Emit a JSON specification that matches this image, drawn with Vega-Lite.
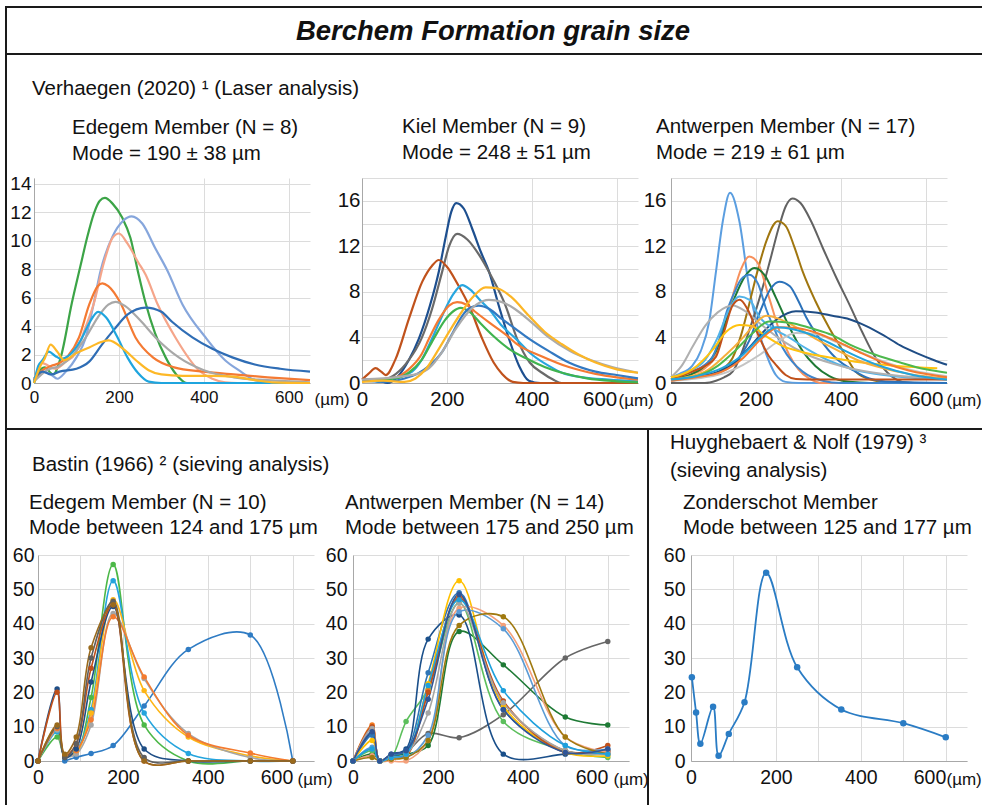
{
"$schema": "https://vega.github.io/schema/vega-lite/v6.json",
"background": "white",
"padding": {"left": 5, "top": 6, "right": 0, "bottom": 0},
"config": {
  "view": {"stroke": null},
  "font": "Liberation Sans",
  "axis": {"ticks": false, "gridColor": "#dcdcdc", "gridWidth": 1, "domainColor": "#a8a8a8", "labelFont": "Liberation Sans", "labelColor": "#111111", "labelOverlap": false, "labelFlush": false, "titleFont": "Liberation Sans", "titleFontWeight": "normal", "titleColor": "#111111", "titleFontSize": 17},
  "axisX": {"titleAlign": "left", "titleBaseline": "alphabetic", "titleAngle": 0},
  "title": {"font": "Liberation Sans", "fontSize": 20.5, "fontWeight": "normal", "color": "#111111", "anchor": "start", "frame": "group", "lineHeight": 26}
},
"datasets": {
"e1": [
{"s":"g","x":0,"y":0},{"s":"g","x":10,"y":0.7},{"s":"g","x":25,"y":1.1},{"s":"g","x":45,"y":0.6},{"s":"g","x":63,"y":1.8},{"s":"g","x":89,"y":5.6},{"s":"g","x":110,"y":8.3},{"s":"g","x":125,"y":10.2},{"s":"g","x":141,"y":11.9},{"s":"g","x":155,"y":12.8},{"s":"g","x":167,"y":13.0},{"s":"g","x":185,"y":12.6},{"s":"g","x":208,"y":11.6},{"s":"g","x":227,"y":10.2},{"s":"g","x":245,"y":7.8},{"s":"g","x":263,"y":5.6},{"s":"g","x":285,"y":3.5},{"s":"g","x":310,"y":1.8},{"s":"g","x":335,"y":0.6},{"s":"g","x":360,"y":0},{"s":"g","x":650,"y":0},
{"s":"lb","x":0,"y":0.2},{"s":"lb","x":20,"y":0.8},{"s":"lb","x":40,"y":0.6},{"s":"lb","x":55,"y":0.3},{"s":"lb","x":75,"y":0.8},{"s":"lb","x":100,"y":1.8},{"s":"lb","x":122,"y":3.2},{"s":"lb","x":140,"y":5.5},{"s":"lb","x":157,"y":7.9},{"s":"lb","x":185,"y":10.3},{"s":"lb","x":210,"y":11.4},{"s":"lb","x":230,"y":11.7},{"s":"lb","x":255,"y":11.2},{"s":"lb","x":285,"y":9.5},{"s":"lb","x":314,"y":7.9},{"s":"lb","x":350,"y":5.5},{"s":"lb","x":404,"y":3.2},{"s":"lb","x":450,"y":1.6},{"s":"lb","x":482,"y":0.9},{"s":"lb","x":520,"y":0.2},{"s":"lb","x":560,"y":0},{"s":"lb","x":650,"y":0},
{"s":"sa","x":0,"y":0.2},{"s":"sa","x":20,"y":1.4},{"s":"sa","x":35,"y":1.2},{"s":"sa","x":50,"y":1.0},{"s":"sa","x":75,"y":1.5},{"s":"sa","x":98,"y":2.1},{"s":"sa","x":120,"y":3.8},{"s":"sa","x":141,"y":5.6},{"s":"sa","x":165,"y":8.5},{"s":"sa","x":185,"y":10.2},{"s":"sa","x":200,"y":10.5},{"s":"sa","x":220,"y":9.8},{"s":"sa","x":245,"y":8.5},{"s":"sa","x":263,"y":7.6},{"s":"sa","x":290,"y":5.6},{"s":"sa","x":333,"y":3.2},{"s":"sa","x":388,"y":0.9},{"s":"sa","x":420,"y":0.3},{"s":"sa","x":450,"y":0.05},{"s":"sa","x":480,"y":0},{"s":"sa","x":650,"y":0},
{"s":"or","x":0,"y":0.2},{"s":"or","x":20,"y":0.9},{"s":"or","x":40,"y":1.2},{"s":"or","x":60,"y":1.4},{"s":"or","x":80,"y":1.9},{"s":"or","x":106,"y":3.2},{"s":"or","x":130,"y":5.5},{"s":"or","x":150,"y":6.8},{"s":"or","x":161,"y":7.0},{"s":"or","x":175,"y":6.8},{"s":"or","x":204,"y":5.6},{"s":"or","x":239,"y":3.2},{"s":"or","x":280,"y":1.8},{"s":"or","x":330,"y":1.1},{"s":"or","x":400,"y":0.8},{"s":"or","x":470,"y":0.6},{"s":"or","x":550,"y":0.4},{"s":"or","x":650,"y":0.2},
{"s":"gr","x":0,"y":0.1},{"s":"gr","x":30,"y":0.9},{"s":"gr","x":60,"y":1.2},{"s":"gr","x":90,"y":1.9},{"s":"gr","x":122,"y":3.2},{"s":"gr","x":150,"y":4.6},{"s":"gr","x":175,"y":5.5},{"s":"gr","x":192,"y":5.7},{"s":"gr","x":215,"y":5.4},{"s":"gr","x":250,"y":4.4},{"s":"gr","x":286,"y":3.2},{"s":"gr","x":341,"y":1.8},{"s":"gr","x":400,"y":0.9},{"s":"gr","x":470,"y":0.4},{"s":"gr","x":550,"y":0.2},{"s":"gr","x":650,"y":0.05},
{"s":"db","x":0,"y":0.3},{"s":"db","x":20,"y":0.8},{"s":"db","x":40,"y":0.6},{"s":"db","x":60,"y":0.8},{"s":"db","x":100,"y":1.0},{"s":"db","x":130,"y":1.5},{"s":"db","x":160,"y":2.7},{"s":"db","x":190,"y":3.8},{"s":"db","x":220,"y":4.8},{"s":"db","x":263,"y":5.3},{"s":"db","x":300,"y":5.0},{"s":"db","x":325,"y":4.3},{"s":"db","x":373,"y":3.2},{"s":"db","x":420,"y":2.4},{"s":"db","x":467,"y":1.8},{"s":"db","x":520,"y":1.3},{"s":"db","x":580,"y":1.0},{"s":"db","x":650,"y":0.8},
{"s":"cy","x":0,"y":0},{"s":"cy","x":10,"y":1.2},{"s":"cy","x":20,"y":1.6},{"s":"cy","x":35,"y":2.2},{"s":"cy","x":50,"y":1.9},{"s":"cy","x":63,"y":1.7},{"s":"cy","x":85,"y":2.0},{"s":"cy","x":110,"y":3.0},{"s":"cy","x":130,"y":4.2},{"s":"cy","x":151,"y":5.0},{"s":"cy","x":170,"y":4.6},{"s":"cy","x":195,"y":3.3},{"s":"cy","x":220,"y":1.8},{"s":"cy","x":245,"y":0.7},{"s":"cy","x":270,"y":0.1},{"s":"cy","x":300,"y":0},{"s":"cy","x":650,"y":0},
{"s":"ye","x":0,"y":0},{"s":"ye","x":15,"y":1.2},{"s":"ye","x":25,"y":1.7},{"s":"ye","x":39,"y":2.7},{"s":"ye","x":55,"y":2.2},{"s":"ye","x":71,"y":1.6},{"s":"ye","x":100,"y":2.1},{"s":"ye","x":130,"y":2.5},{"s":"ye","x":160,"y":2.9},{"s":"ye","x":176,"y":3.0},{"s":"ye","x":210,"y":2.4},{"s":"ye","x":240,"y":1.6},{"s":"ye","x":270,"y":0.9},{"s":"ye","x":300,"y":0.6},{"s":"ye","x":350,"y":0.5},{"s":"ye","x":420,"y":0.5},{"s":"ye","x":470,"y":0.45},{"s":"ye","x":520,"y":0.2},{"s":"ye","x":560,"y":0.05},{"s":"ye","x":650,"y":0}
],
"k": [
{"s":"nv","x":0,"y":0.3},{"s":"nv","x":40,"y":0.2},{"s":"nv","x":60,"y":0.0},{"s":"nv","x":85,"y":0.6},{"s":"nv","x":110,"y":2},{"s":"nv","x":134,"y":3.9},{"s":"nv","x":160,"y":6.8},{"s":"nv","x":181,"y":9.8},{"s":"nv","x":197,"y":12.8},{"s":"nv","x":210,"y":15},{"s":"nv","x":222,"y":15.8},{"s":"nv","x":240,"y":15.3},{"s":"nv","x":260,"y":13.5},{"s":"nv","x":280,"y":11.5},{"s":"nv","x":299,"y":9.8},{"s":"nv","x":322,"y":6.8},{"s":"nv","x":346,"y":3.9},{"s":"nv","x":370,"y":1.5},{"s":"nv","x":393,"y":0.2},{"s":"nv","x":420,"y":0},{"s":"nv","x":650,"y":0},
{"s":"dg","x":0,"y":0.3},{"s":"dg","x":50,"y":0.3},{"s":"dg","x":80,"y":0.8},{"s":"dg","x":110,"y":2},{"s":"dg","x":140,"y":3.9},{"s":"dg","x":165,"y":6.5},{"s":"dg","x":189,"y":9.8},{"s":"dg","x":205,"y":12},{"s":"dg","x":224,"y":13.1},{"s":"dg","x":248,"y":12.6},{"s":"dg","x":275,"y":11.3},{"s":"dg","x":307,"y":9.2},{"s":"dg","x":338,"y":6.8},{"s":"dg","x":365,"y":3.9},{"s":"dg","x":395,"y":1.8},{"s":"dg","x":424,"y":0.9},{"s":"dg","x":450,"y":0.3},{"s":"dg","x":470,"y":0},{"s":"dg","x":650,"y":0},
{"s":"ru","x":0,"y":0.3},{"s":"ru","x":15,"y":0.8},{"s":"ru","x":32,"y":1.3},{"s":"ru","x":45,"y":1.0},{"s":"ru","x":56,"y":0.7},{"s":"ru","x":79,"y":2.1},{"s":"ru","x":111,"y":5.7},{"s":"ru","x":142,"y":8.9},{"s":"ru","x":165,"y":10.3},{"s":"ru","x":181,"y":10.8},{"s":"ru","x":200,"y":10.2},{"s":"ru","x":225,"y":8.7},{"s":"ru","x":252,"y":6.8},{"s":"ru","x":283,"y":3.9},{"s":"ru","x":310,"y":1.8},{"s":"ru","x":330,"y":0.8},{"s":"ru","x":355,"y":0.1},{"s":"ru","x":380,"y":0},{"s":"ru","x":650,"y":0},
{"s":"cy","x":0,"y":0.2},{"s":"cy","x":20,"y":0.3},{"s":"cy","x":40,"y":0.1},{"s":"cy","x":60,"y":0.3},{"s":"cy","x":90,"y":0.6},{"s":"cy","x":118,"y":1},{"s":"cy","x":140,"y":2},{"s":"cy","x":165,"y":3.9},{"s":"cy","x":190,"y":6},{"s":"cy","x":215,"y":7.8},{"s":"cy","x":236,"y":8.6},{"s":"cy","x":255,"y":8.2},{"s":"cy","x":280,"y":7.2},{"s":"cy","x":299,"y":6.5},{"s":"cy","x":330,"y":5.0},{"s":"cy","x":362,"y":3.9},{"s":"cy","x":400,"y":2.5},{"s":"cy","x":440,"y":1.5},{"s":"cy","x":471,"y":0.9},{"s":"cy","x":520,"y":0.5},{"s":"cy","x":580,"y":0.3},{"s":"cy","x":650,"y":0.15},
{"s":"or","x":0,"y":0.2},{"s":"or","x":40,"y":0.3},{"s":"or","x":80,"y":0.5},{"s":"or","x":110,"y":1.2},{"s":"or","x":140,"y":2.5},{"s":"or","x":158,"y":3.9},{"s":"or","x":180,"y":5.5},{"s":"or","x":205,"y":6.8},{"s":"or","x":224,"y":7.1},{"s":"or","x":245,"y":6.9},{"s":"or","x":265,"y":6.3},{"s":"or","x":300,"y":5.3},{"s":"or","x":340,"y":4.2},{"s":"or","x":369,"y":3.3},{"s":"or","x":420,"y":2.4},{"s":"or","x":487,"y":1.4},{"s":"or","x":550,"y":0.8},{"s":"or","x":600,"y":0.5},{"s":"or","x":650,"y":0.3},
{"s":"gn","x":0,"y":0.2},{"s":"gn","x":40,"y":0.3},{"s":"gn","x":80,"y":0.4},{"s":"gn","x":110,"y":0.9},{"s":"gn","x":140,"y":2},{"s":"gn","x":169,"y":3.9},{"s":"gn","x":195,"y":5.5},{"s":"gn","x":215,"y":6.3},{"s":"gn","x":232,"y":6.6},{"s":"gn","x":255,"y":6.2},{"s":"gn","x":280,"y":5.2},{"s":"gn","x":310,"y":4.1},{"s":"gn","x":346,"y":3.0},{"s":"gn","x":390,"y":2.1},{"s":"gn","x":430,"y":1.4},{"s":"gn","x":471,"y":0.9},{"s":"gn","x":530,"y":0.4},{"s":"gn","x":600,"y":0.15},{"s":"gn","x":650,"y":0.05},
{"s":"bl","x":0,"y":0.2},{"s":"bl","x":50,"y":0.1},{"s":"bl","x":100,"y":0.4},{"s":"bl","x":130,"y":0.8},{"s":"bl","x":158,"y":1.5},{"s":"bl","x":190,"y":2.8},{"s":"bl","x":215,"y":4.5},{"s":"bl","x":236,"y":5.9},{"s":"bl","x":255,"y":6.6},{"s":"bl","x":275,"y":6.8},{"s":"bl","x":300,"y":6.5},{"s":"bl","x":330,"y":5.6},{"s":"bl","x":360,"y":4.8},{"s":"bl","x":393,"y":3.9},{"s":"bl","x":440,"y":2.8},{"s":"bl","x":487,"y":1.8},{"s":"bl","x":550,"y":1.0},{"s":"bl","x":600,"y":0.7},{"s":"bl","x":650,"y":0.4},
{"s":"lg","x":0,"y":0.3},{"s":"lg","x":50,"y":0.4},{"s":"lg","x":100,"y":0.6},{"s":"lg","x":130,"y":0.8},{"s":"lg","x":158,"y":1.3},{"s":"lg","x":190,"y":2.8},{"s":"lg","x":220,"y":4.7},{"s":"lg","x":245,"y":6},{"s":"lg","x":270,"y":6.9},{"s":"lg","x":299,"y":7.3},{"s":"lg","x":330,"y":7.1},{"s":"lg","x":360,"y":6.5},{"s":"lg","x":400,"y":5.3},{"s":"lg","x":440,"y":4.0},{"s":"lg","x":490,"y":2.8},{"s":"lg","x":540,"y":2.0},{"s":"lg","x":589,"y":1.4},{"s":"lg","x":650,"y":0.9},
{"s":"ye","x":0,"y":0.1},{"s":"ye","x":50,"y":0.2},{"s":"ye","x":100,"y":0.1},{"s":"ye","x":126,"y":0.4},{"s":"ye","x":150,"y":1.2},{"s":"ye","x":181,"y":3.0},{"s":"ye","x":210,"y":4.8},{"s":"ye","x":236,"y":6.3},{"s":"ye","x":260,"y":7.5},{"s":"ye","x":291,"y":8.4},{"s":"ye","x":320,"y":8.3},{"s":"ye","x":350,"y":7.6},{"s":"ye","x":393,"y":5.9},{"s":"ye","x":430,"y":4.5},{"s":"ye","x":471,"y":3.4},{"s":"ye","x":510,"y":2.5},{"s":"ye","x":550,"y":1.8},{"s":"ye","x":600,"y":1.2},{"s":"ye","x":650,"y":0.9}
],
"a1": [
{"s":"cf","x":0,"y":0.5},{"s":"cf","x":20,"y":0.8},{"s":"cf","x":50,"y":1.5},{"s":"cf","x":70,"y":2.8},{"s":"cf","x":90,"y":5.4},{"s":"cf","x":106,"y":9.8},{"s":"cf","x":122,"y":14.2},{"s":"cf","x":139,"y":16.7},{"s":"cf","x":161,"y":14.2},{"s":"cf","x":184,"y":8.4},{"s":"cf","x":200,"y":5.5},{"s":"cf","x":216,"y":3.4},{"s":"cf","x":232,"y":1.8},{"s":"cf","x":247,"y":0.7},{"s":"cf","x":270,"y":0.1},{"s":"cf","x":300,"y":0},{"s":"cf","x":650,"y":0},
{"s":"dg","x":0,"y":0},{"s":"dg","x":80,"y":0},{"s":"dg","x":106,"y":0.2},{"s":"dg","x":125,"y":0.5},{"s":"dg","x":145,"y":1.0},{"s":"dg","x":165,"y":2.5},{"s":"dg","x":184,"y":4.6},{"s":"dg","x":200,"y":6.4},{"s":"dg","x":216,"y":8.4},{"s":"dg","x":235,"y":11},{"s":"dg","x":255,"y":13.8},{"s":"dg","x":270,"y":15.5},{"s":"dg","x":286,"y":16.2},{"s":"dg","x":305,"y":15.8},{"s":"dg","x":330,"y":14.2},{"s":"dg","x":357,"y":11.9},{"s":"dg","x":390,"y":9.2},{"s":"dg","x":420,"y":6.9},{"s":"dg","x":450,"y":4.5},{"s":"dg","x":482,"y":2.2},{"s":"dg","x":510,"y":0.9},{"s":"dg","x":545,"y":0.1},{"s":"dg","x":570,"y":0},{"s":"dg","x":650,"y":0},
{"s":"gd","x":0,"y":0.3},{"s":"gd","x":50,"y":0.5},{"s":"gd","x":100,"y":0.8},{"s":"gd","x":125,"y":1.3},{"s":"gd","x":145,"y":2.2},{"s":"gd","x":165,"y":4.2},{"s":"gd","x":184,"y":6.9},{"s":"gd","x":205,"y":10},{"s":"gd","x":225,"y":12.5},{"s":"gd","x":251,"y":14.2},{"s":"gd","x":270,"y":13.8},{"s":"gd","x":290,"y":12},{"s":"gd","x":310,"y":9.8},{"s":"gd","x":340,"y":7.2},{"s":"gd","x":373,"y":4.8},{"s":"gd","x":405,"y":2.8},{"s":"gd","x":435,"y":1.0},{"s":"gd","x":470,"y":0.3},{"s":"gd","x":510,"y":0.05},{"s":"gd","x":650,"y":0},
{"s":"so","x":0,"y":0.3},{"s":"so","x":50,"y":0.8},{"s":"so","x":80,"y":1.3},{"s":"so","x":106,"y":2.5},{"s":"so","x":125,"y":4.8},{"s":"so","x":145,"y":7.6},{"s":"so","x":165,"y":10},{"s":"so","x":184,"y":11.1},{"s":"so","x":205,"y":10.5},{"s":"so","x":231,"y":7.5},{"s":"so","x":255,"y":4.6},{"s":"so","x":278,"y":2.5},{"s":"so","x":300,"y":1.2},{"s":"so","x":325,"y":0.4},{"s":"so","x":357,"y":0},{"s":"so","x":650,"y":0},
{"s":"dgn","x":0,"y":0.3},{"s":"dgn","x":50,"y":0.8},{"s":"dgn","x":80,"y":1.5},{"s":"dgn","x":106,"y":2.8},{"s":"dgn","x":129,"y":5.4},{"s":"dgn","x":150,"y":7.5},{"s":"dgn","x":175,"y":9.4},{"s":"dgn","x":196,"y":10.1},{"s":"dgn","x":220,"y":9.5},{"s":"dgn","x":247,"y":7.5},{"s":"dgn","x":275,"y":5.2},{"s":"dgn","x":310,"y":2.8},{"s":"dgn","x":340,"y":1.5},{"s":"dgn","x":373,"y":0.6},{"s":"dgn","x":420,"y":0.1},{"s":"dgn","x":467,"y":0},{"s":"dgn","x":650,"y":0},
{"s":"ba","x":0,"y":0.5},{"s":"ba","x":50,"y":1},{"s":"ba","x":80,"y":1.6},{"s":"ba","x":98,"y":2.3},{"s":"ba","x":115,"y":4},{"s":"ba","x":129,"y":6},{"s":"ba","x":150,"y":8},{"s":"ba","x":165,"y":9.1},{"s":"ba","x":184,"y":9.5},{"s":"ba","x":205,"y":8.7},{"s":"ba","x":224,"y":6.5},{"s":"ba","x":245,"y":4.6},{"s":"ba","x":263,"y":3.1},{"s":"ba","x":285,"y":1.9},{"s":"ba","x":310,"y":1.0},{"s":"ba","x":357,"y":0.2},{"s":"ba","x":400,"y":0},{"s":"ba","x":650,"y":0},
{"s":"bb","x":0,"y":0.2},{"s":"bb","x":50,"y":0.5},{"s":"bb","x":100,"y":0.8},{"s":"bb","x":145,"y":1.6},{"s":"bb","x":184,"y":3.7},{"s":"bb","x":210,"y":6.3},{"s":"bb","x":235,"y":8.3},{"s":"bb","x":255,"y":8.9},{"s":"bb","x":280,"y":8.5},{"s":"bb","x":300,"y":7.2},{"s":"bb","x":318,"y":5.8},{"s":"bb","x":350,"y":3.9},{"s":"bb","x":388,"y":2.2},{"s":"bb","x":430,"y":1.1},{"s":"bb","x":467,"y":0.4},{"s":"bb","x":520,"y":0.1},{"s":"bb","x":650,"y":0},
{"s":"nv","x":0,"y":0.3},{"s":"nv","x":50,"y":0.5},{"s":"nv","x":106,"y":0.9},{"s":"nv","x":150,"y":1.8},{"s":"nv","x":184,"y":3.1},{"s":"nv","x":215,"y":4.4},{"s":"nv","x":250,"y":5.6},{"s":"nv","x":294,"y":6.3},{"s":"nv","x":340,"y":6.2},{"s":"nv","x":380,"y":5.9},{"s":"nv","x":420,"y":5.6},{"s":"nv","x":460,"y":5.0},{"s":"nv","x":500,"y":4.2},{"s":"nv","x":540,"y":3.3},{"s":"nv","x":580,"y":2.6},{"s":"nv","x":620,"y":2.0},{"s":"nv","x":650,"y":1.6},
{"s":"sky","x":0,"y":0.5},{"s":"sky","x":40,"y":1},{"s":"sky","x":80,"y":2},{"s":"sky","x":110,"y":4},{"s":"sky","x":135,"y":6.3},{"s":"sky","x":161,"y":7.6},{"s":"sky","x":185,"y":7.3},{"s":"sky","x":208,"y":5.8},{"s":"sky","x":240,"y":4.8},{"s":"sky","x":278,"y":4.0},{"s":"sky","x":320,"y":3.0},{"s":"sky","x":370,"y":2.0},{"s":"sky","x":420,"y":1.3},{"s":"sky","x":480,"y":0.8},{"s":"sky","x":550,"y":0.5},{"s":"sky","x":650,"y":0.3},
{"s":"lga","x":0,"y":0.5},{"s":"lga","x":25,"y":1.5},{"s":"lga","x":51,"y":3.2},{"s":"lga","x":80,"y":5},{"s":"lga","x":110,"y":6.2},{"s":"lga","x":145,"y":6.8},{"s":"lga","x":175,"y":6.3},{"s":"lga","x":210,"y":5.2},{"s":"lga","x":263,"y":3.7},{"s":"lga","x":320,"y":2.5},{"s":"lga","x":380,"y":1.7},{"s":"lga","x":420,"y":1.3},{"s":"lga","x":500,"y":0.8},{"s":"lga","x":580,"y":0.5},{"s":"lga","x":650,"y":0.4},
{"s":"lgb","x":0,"y":0.2},{"s":"lgb","x":60,"y":0.4},{"s":"lgb","x":120,"y":0.8},{"s":"lgb","x":170,"y":1.6},{"s":"lgb","x":210,"y":2.5},{"s":"lgb","x":250,"y":3.6},{"s":"lgb","x":294,"y":4.4},{"s":"lgb","x":340,"y":4.3},{"s":"lgb","x":390,"y":3.6},{"s":"lgb","x":440,"y":2.8},{"s":"lgb","x":500,"y":1.9},{"s":"lgb","x":570,"y":1.1},{"s":"lgb","x":650,"y":0.6},
{"s":"ru","x":0,"y":0.3},{"s":"ru","x":50,"y":1},{"s":"ru","x":80,"y":1.5},{"s":"ru","x":106,"y":2.3},{"s":"ru","x":125,"y":4.5},{"s":"ru","x":145,"y":6.8},{"s":"ru","x":162,"y":7.3},{"s":"ru","x":180,"y":6.5},{"s":"ru","x":208,"y":4},{"s":"ru","x":230,"y":2.4},{"s":"ru","x":247,"y":1.6},{"s":"ru","x":270,"y":0.7},{"s":"ru","x":294,"y":0.35},{"s":"ru","x":350,"y":0.3},{"s":"ru","x":450,"y":0.3},{"s":"ru","x":550,"y":0.3},{"s":"ru","x":650,"y":0.3},
{"s":"ya","x":0,"y":0.5},{"s":"ya","x":50,"y":1.2},{"s":"ya","x":100,"y":3},{"s":"ya","x":130,"y":4.5},{"s":"ya","x":161,"y":5.1},{"s":"ya","x":190,"y":5.0},{"s":"ya","x":220,"y":4.2},{"s":"ya","x":260,"y":3.3},{"s":"ya","x":310,"y":2.7},{"s":"ya","x":380,"y":2.2},{"s":"ya","x":450,"y":1.8},{"s":"ya","x":530,"y":1.5},{"s":"ya","x":627,"y":1.3},
{"s":"yb","x":0,"y":0.3},{"s":"yb","x":80,"y":1},{"s":"yb","x":130,"y":2.5},{"s":"yb","x":170,"y":4},{"s":"yb","x":200,"y":5.3},{"s":"yb","x":224,"y":5.9},{"s":"yb","x":250,"y":5.7},{"s":"yb","x":290,"y":5.0},{"s":"yb","x":340,"y":3.9},{"s":"yb","x":390,"y":2.9},{"s":"yb","x":440,"y":2.0},{"s":"yb","x":500,"y":1.3},{"s":"yb","x":560,"y":0.8},{"s":"yb","x":650,"y":0.4},
{"s":"gn","x":0,"y":0.3},{"s":"gn","x":60,"y":0.6},{"s":"gn","x":110,"y":1.5},{"s":"gn","x":150,"y":2.8},{"s":"gn","x":190,"y":4.3},{"s":"gn","x":231,"y":5.4},{"s":"gn","x":280,"y":5.3},{"s":"gn","x":330,"y":4.8},{"s":"gn","x":380,"y":4.2},{"s":"gn","x":420,"y":3.4},{"s":"gn","x":480,"y":2.5},{"s":"gn","x":540,"y":1.8},{"s":"gn","x":600,"y":1.2},{"s":"gn","x":650,"y":0.9},
{"s":"or","x":0,"y":0.2},{"s":"or","x":60,"y":0.5},{"s":"or","x":120,"y":1},{"s":"or","x":170,"y":2.2},{"s":"or","x":210,"y":3.8},{"s":"or","x":255,"y":4.9},{"s":"or","x":300,"y":4.8},{"s":"or","x":350,"y":4.3},{"s":"or","x":400,"y":3.5},{"s":"or","x":450,"y":2.6},{"s":"or","x":500,"y":1.8},{"s":"or","x":560,"y":1.1},{"s":"or","x":650,"y":0.5},
{"s":"cy","x":0,"y":0.3},{"s":"cy","x":60,"y":0.6},{"s":"cy","x":120,"y":1.3},{"s":"cy","x":170,"y":2.5},{"s":"cy","x":210,"y":4.0},{"s":"cy","x":247,"y":4.9},{"s":"cy","x":290,"y":4.7},{"s":"cy","x":340,"y":4.1},{"s":"cy","x":390,"y":3.2},{"s":"cy","x":440,"y":2.3},{"s":"cy","x":500,"y":1.4},{"s":"cy","x":570,"y":0.7},{"s":"cy","x":650,"y":0.3}
],
"e2": [
{"s":"bl","x":63,"y":0},{"s":"bl","x":90,"y":1.1},{"s":"bl","x":125,"y":2.2},{"s":"bl","x":177,"y":4.5},{"s":"bl","x":250,"y":16},{"s":"bl","x":354,"y":32.5},{"s":"bl","x":500,"y":36.7},{"s":"bl","x":600,"y":0},
{"s":"gn","x":0,"y":0},{"s":"gn","x":45,"y":7},{"s":"gn","x":63,"y":1.5},{"s":"gn","x":90,"y":2.5},{"s":"gn","x":125,"y":18.5},{"s":"gn","x":177,"y":57.2},{"s":"gn","x":250,"y":10.5},{"s":"gn","x":354,"y":0},{"s":"gn","x":500,"y":0},{"s":"gn","x":600,"y":0},
{"s":"cy","x":0,"y":0},{"s":"cy","x":45,"y":8.5},{"s":"cy","x":63,"y":1.5},{"s":"cy","x":90,"y":3},{"s":"cy","x":125,"y":15},{"s":"cy","x":177,"y":52.5},{"s":"cy","x":250,"y":14},{"s":"cy","x":354,"y":2.2},{"s":"cy","x":500,"y":0},{"s":"cy","x":600,"y":0},
{"s":"ye","x":0,"y":0},{"s":"ye","x":45,"y":10},{"s":"ye","x":63,"y":1.5},{"s":"ye","x":90,"y":2.5},{"s":"ye","x":125,"y":14},{"s":"ye","x":177,"y":47},{"s":"ye","x":250,"y":20.5},{"s":"ye","x":354,"y":7},{"s":"ye","x":500,"y":1.5},{"s":"ye","x":600,"y":0},
{"s":"gr","x":0,"y":0},{"s":"gr","x":45,"y":9},{"s":"gr","x":63,"y":1.5},{"s":"gr","x":90,"y":2},{"s":"gr","x":125,"y":10.5},{"s":"gr","x":177,"y":43},{"s":"gr","x":250,"y":24},{"s":"gr","x":354,"y":8},{"s":"gr","x":500,"y":1},{"s":"gr","x":600,"y":0},
{"s":"or","x":0,"y":0},{"s":"or","x":45,"y":9.5},{"s":"or","x":63,"y":1.5},{"s":"or","x":90,"y":3},{"s":"or","x":125,"y":12},{"s":"or","x":177,"y":42},{"s":"or","x":250,"y":24.5},{"s":"or","x":354,"y":7.5},{"s":"or","x":500,"y":2.3},{"s":"or","x":600,"y":0},
{"s":"nv","x":0,"y":0},{"s":"nv","x":45,"y":21},{"s":"nv","x":63,"y":1},{"s":"nv","x":90,"y":3.5},{"s":"nv","x":125,"y":23},{"s":"nv","x":177,"y":45},{"s":"nv","x":250,"y":3.5},{"s":"nv","x":354,"y":0},{"s":"nv","x":500,"y":0},{"s":"nv","x":600,"y":0},
{"s":"ru","x":0,"y":0},{"s":"ru","x":45,"y":20},{"s":"ru","x":63,"y":1.5},{"s":"ru","x":90,"y":5},{"s":"ru","x":125,"y":27},{"s":"ru","x":177,"y":45.5},{"s":"ru","x":250,"y":0},{"s":"ru","x":354,"y":0},{"s":"ru","x":500,"y":0},{"s":"ru","x":600,"y":0},
{"s":"dk","x":0,"y":0},{"s":"dk","x":45,"y":10},{"s":"dk","x":63,"y":1},{"s":"dk","x":90,"y":5},{"s":"dk","x":125,"y":30},{"s":"dk","x":177,"y":46.5},{"s":"dk","x":250,"y":1},{"s":"dk","x":354,"y":0},{"s":"dk","x":500,"y":0},{"s":"dk","x":600,"y":0},
{"s":"br","x":0,"y":0},{"s":"br","x":45,"y":10.5},{"s":"br","x":63,"y":2},{"s":"br","x":90,"y":7},{"s":"br","x":125,"y":33},{"s":"br","x":177,"y":45.5},{"s":"br","x":250,"y":0},{"s":"br","x":354,"y":0},{"s":"br","x":500,"y":0},{"s":"br","x":600,"y":0}
],
"a2": [
{"s":"dk","x":0,"y":0},{"s":"dk","x":45,"y":1.5},{"s":"dk","x":63,"y":0},{"s":"dk","x":90,"y":1},{"s":"dk","x":125,"y":2.5},{"s":"dk","x":177,"y":8},{"s":"dk","x":250,"y":6.8},{"s":"dk","x":354,"y":13.5},{"s":"dk","x":500,"y":30},{"s":"dk","x":600,"y":34.8},
{"s":"dgn","x":0,"y":0},{"s":"dgn","x":45,"y":2},{"s":"dgn","x":63,"y":0},{"s":"dgn","x":90,"y":1.5},{"s":"dgn","x":125,"y":2},{"s":"dgn","x":177,"y":4.5},{"s":"dgn","x":250,"y":37.7},{"s":"dgn","x":354,"y":28},{"s":"dgn","x":500,"y":12.8},{"s":"dgn","x":600,"y":10.5},
{"s":"lgn","x":0,"y":0},{"s":"lgn","x":45,"y":3},{"s":"lgn","x":63,"y":0},{"s":"lgn","x":90,"y":1},{"s":"lgn","x":125,"y":11.5},{"s":"lgn","x":177,"y":21},{"s":"lgn","x":250,"y":46},{"s":"lgn","x":354,"y":11.5},{"s":"lgn","x":500,"y":3},{"s":"lgn","x":600,"y":1},
{"s":"nv","x":0,"y":0},{"s":"nv","x":45,"y":8},{"s":"nv","x":63,"y":0},{"s":"nv","x":90,"y":2},{"s":"nv","x":125,"y":3.5},{"s":"nv","x":177,"y":35.5},{"s":"nv","x":250,"y":42.5},{"s":"nv","x":354,"y":2},{"s":"nv","x":500,"y":2},{"s":"nv","x":600,"y":3},
{"s":"bl","x":0,"y":0},{"s":"bl","x":45,"y":7.5},{"s":"bl","x":63,"y":0},{"s":"bl","x":90,"y":1.5},{"s":"bl","x":125,"y":3},{"s":"bl","x":177,"y":25.7},{"s":"bl","x":250,"y":49},{"s":"bl","x":354,"y":15},{"s":"bl","x":500,"y":3},{"s":"bl","x":600,"y":2.5},
{"s":"ye","x":0,"y":0},{"s":"ye","x":45,"y":6},{"s":"ye","x":63,"y":0},{"s":"ye","x":90,"y":1},{"s":"ye","x":125,"y":2},{"s":"ye","x":177,"y":22.5},{"s":"ye","x":250,"y":52.5},{"s":"ye","x":354,"y":16},{"s":"ye","x":500,"y":2.5},{"s":"ye","x":600,"y":1.5},
{"s":"or","x":0,"y":0},{"s":"or","x":45,"y":10.5},{"s":"or","x":63,"y":0},{"s":"or","x":90,"y":1},{"s":"or","x":125,"y":1.5},{"s":"or","x":177,"y":20.5},{"s":"or","x":250,"y":48},{"s":"or","x":354,"y":17},{"s":"or","x":500,"y":3},{"s":"or","x":600,"y":3},
{"s":"ru","x":0,"y":0},{"s":"ru","x":45,"y":10},{"s":"ru","x":63,"y":0},{"s":"ru","x":90,"y":1},{"s":"ru","x":125,"y":1.5},{"s":"ru","x":177,"y":20},{"s":"ru","x":250,"y":47.5},{"s":"ru","x":354,"y":17.5},{"s":"ru","x":500,"y":2.5},{"s":"ru","x":600,"y":4.5},
{"s":"sal","x":0,"y":0},{"s":"sal","x":45,"y":1.5},{"s":"sal","x":63,"y":0},{"s":"sal","x":90,"y":0},{"s":"sal","x":125,"y":0},{"s":"sal","x":177,"y":6},{"s":"sal","x":250,"y":44.5},{"s":"sal","x":354,"y":39.5},{"s":"sal","x":500,"y":7},{"s":"sal","x":600,"y":2.5},
{"s":"cf","x":0,"y":0},{"s":"cf","x":45,"y":4},{"s":"cf","x":63,"y":0},{"s":"cf","x":90,"y":1},{"s":"cf","x":125,"y":1},{"s":"cf","x":177,"y":7.5},{"s":"cf","x":250,"y":43.5},{"s":"cf","x":354,"y":38.5},{"s":"cf","x":500,"y":4.5},{"s":"cf","x":600,"y":3.5},
{"s":"gd","x":0,"y":0},{"s":"gd","x":45,"y":1},{"s":"gd","x":63,"y":0},{"s":"gd","x":90,"y":0.5},{"s":"gd","x":125,"y":1},{"s":"gd","x":177,"y":6},{"s":"gd","x":250,"y":39.5},{"s":"gd","x":354,"y":42},{"s":"gd","x":500,"y":7},{"s":"gd","x":600,"y":2},
{"s":"gr","x":0,"y":0},{"s":"gr","x":45,"y":9.5},{"s":"gr","x":63,"y":0},{"s":"gr","x":90,"y":1},{"s":"gr","x":125,"y":2},{"s":"gr","x":177,"y":14},{"s":"gr","x":250,"y":46},{"s":"gr","x":354,"y":17},{"s":"gr","x":500,"y":3},{"s":"gr","x":600,"y":2},
{"s":"cy","x":0,"y":0},{"s":"cy","x":45,"y":3.5},{"s":"cy","x":63,"y":0},{"s":"cy","x":90,"y":1},{"s":"cy","x":125,"y":2},{"s":"cy","x":177,"y":22},{"s":"cy","x":250,"y":47},{"s":"cy","x":354,"y":20.5},{"s":"cy","x":500,"y":4.5},{"s":"cy","x":600,"y":2},
{"s":"db2","x":0,"y":0},{"s":"db2","x":45,"y":8.5},{"s":"db2","x":63,"y":0},{"s":"db2","x":90,"y":2},{"s":"db2","x":125,"y":3},{"s":"db2","x":177,"y":18},{"s":"db2","x":250,"y":48.5},{"s":"db2","x":354,"y":15},{"s":"db2","x":500,"y":2.5},{"s":"db2","x":600,"y":3.5}
],
"z": [
{"x":2,"y":24.4},{"x":12,"y":14.1},{"x":22,"y":5},{"x":52,"y":15.8},{"x":65,"y":1.5},{"x":89,"y":7.9},{"x":126,"y":17.1},{"x":177,"y":54.8},{"x":250,"y":27.3},{"x":354,"y":15},{"x":500,"y":11},{"x":600,"y":6.9}
]
},
"columns": 1,
"align": "none",
"spacing": -2,
"resolve": {"scale": {"color": "independent"}},
"concat": [
{
  "width": 980, "height": 47,
  "data": {"values": [{"t": "Berchem Formation grain size"}]},
  "mark": {"type": "text", "font": "Liberation Sans", "fontSize": 27.5, "fontWeight": "bold", "fontStyle": "italic", "color": "#111111", "dy": 1, "dx": -3},
  "encoding": {"text": {"field": "t", "type": "nominal"}},
  "view": {"stroke": "#1a1a1a", "strokeWidth": 2}
},
{
  "columns": 1,
  "align": "none",
  "spacing": -314,
  "resolve": {"scale": {"color": "independent"}},
  "concat": [
    {
      "width": 980, "height": 375,
      "title": {"text": "Verhaegen (2020) ¹ (Laser analysis)", "dx": 26, "offset": -45},
      "data": {"values": [{}]},
      "mark": {"type": "point", "opacity": 0},
      "view": {"stroke": "#1a1a1a", "strokeWidth": 2}
    },
    {
      "spacing": -15,
      "resolve": {"scale": {"color": "independent"}},
      "hconcat": [
        {"width": 18, "height": 1, "data": {"values": [{}]}, "mark": {"type": "point", "opacity": 0}},
        {
          "width": 276, "height": 205,
          "title": {"text": ["Edegem Member (N = 8)", "Mode = 190 ± 38 µm"], "dx": 38, "offset": 10},
          "data": {"name": "e1"},
          "mark": {"type": "line", "interpolate": "monotone", "strokeWidth": 2.2},
          "encoding": {
            "x": {"field": "x", "type": "quantitative", "scale": {"domain": [0, 650], "nice": false, "zero": false},
                  "axis": {"values": [0, 200, 400, 600], "labelFontSize": 17, "labelPadding": 6, "labelAlign": "center", "title": "(µm)", "titleX": 280, "titleY": 21}},
            "y": {"field": "y", "type": "quantitative", "scale": {"domain": [0, 14.4], "nice": false},
                  "axis": {"values": [0, 2, 4, 6, 8, 10, 12, 14], "labelFontSize": 19, "labelPadding": 3, "minExtent": 24, "maxExtent": 24, "title": null}},
            "color": {"field": "s", "type": "nominal", "legend": null,
                      "scale": {"domain": ["g","lb","sa","or","gr","db","cy","ye"], "range": ["#3ca447","#86a6dc","#f5a58a","#f47a33","#a8a8a8","#2f6db5","#1fa5de","#fdb827"]}}
          }
        },
        {
          "width": 276, "height": 205,
          "title": {"text": ["Kiel Member (N = 9)", "Mode = 248 ± 51 µm"], "dx": 40, "offset": 5},
          "data": {"name": "k"},
          "mark": {"type": "line", "interpolate": "monotone", "strokeWidth": 2.2},
          "encoding": {
            "x": {"field": "x", "type": "quantitative", "scale": {"domain": [0, 650], "nice": false, "zero": false},
                  "axis": {"values": [0, 200, 400, 600], "labelFontSize": 20.5, "labelPadding": 6, "labelAlign": {"condition": {"test": "datum.value == 600", "value": "right"}, "value": "center"}, "title": "(µm)", "titleX": 256, "titleY": 22}},
            "y": {"field": "y", "type": "quantitative", "scale": {"domain": [0, 18], "nice": false},
                  "axis": {"values": [0, 2, 4, 6, 8, 10, 12, 14, 16, 18], "labelExpr": "datum.value % 4 == 0 && datum.value < 18 ? datum.label : ''", "labelFontSize": 20.5, "labelPadding": 2, "minExtent": 27, "maxExtent": 27, "title": null}},
            "color": {"field": "s", "type": "nominal", "legend": null,
                      "scale": {"domain": ["nv","dg","ru","cy","or","gn","bl","lg","ye"], "range": ["#1d4f8f","#6a6a6a","#c0521c","#27a6df","#f47a33","#40b34f","#3379c2","#ababab","#fcb626"]}}
          }
        },
        {
          "width": 276, "height": 205,
          "title": {"text": ["Antwerpen Member (N = 17)", "Mode = 219 ± 61 µm"], "dx": -15, "offset": 5},
          "data": {"name": "a1"},
          "mark": {"type": "line", "interpolate": "monotone", "strokeWidth": 2},
          "encoding": {
            "x": {"field": "x", "type": "quantitative", "scale": {"domain": [0, 650], "nice": false, "zero": false},
                  "axis": {"values": [0, 200, 400, 600], "labelFontSize": 20.5, "labelPadding": 6, "labelAlign": "center", "title": "(µm)", "titleX": 275, "titleY": 22}},
            "y": {"field": "y", "type": "quantitative", "scale": {"domain": [0, 18], "nice": false},
                  "axis": {"values": [0, 2, 4, 6, 8, 10, 12, 14, 16, 18], "labelExpr": "datum.value % 4 == 0 && datum.value < 18 ? datum.label : ''", "labelFontSize": 20.5, "labelPadding": 5, "minExtent": 32, "maxExtent": 32, "title": null}},
            "color": {"field": "s", "type": "nominal", "legend": null,
                      "scale": {"domain": ["cf","dg","gd","so","dgn","ba","bb","nv","sky","lga","lgb","ru","ya","yb","gn","or","cy"], "range": ["#5b9ee0","#626262","#a0760f","#f7905c","#1f7a35","#3d85cc","#2c72ba","#1f4d85","#52b3e8","#b0b0b0","#c4c4c4","#c0501a","#ffc20e","#f5ae3b","#4db84d","#f47a30","#22a3dd"]}}
          }
        }
      ]
    }
  ]
},
{
  "columns": 1,
  "align": "none",
  "spacing": -323,
  "resolve": {"scale": {"color": "independent"}},
  "concat": [
    {
      "columns": 2,
      "align": "none",
      "spacing": -2,
      "concat": [
        {
          "width": 642, "height": 385,
          "title": {"text": "Bastin (1966) ² (sieving analysis)", "dx": 26, "offset": -46},
          "data": {"values": [{}]},
          "mark": {"type": "point", "opacity": 0},
          "view": {"stroke": "#1a1a1a", "strokeWidth": 2}
        },
        {
          "width": 338, "height": 385,
          "title": {"text": ["Huyghebaert & Nolf (1979) ³", "(sieving analysis)"], "lineHeight": 28, "dx": 22, "offset": -52},
          "data": {"values": [{}]},
          "mark": {"type": "point", "opacity": 0},
          "view": {"stroke": "#1a1a1a", "strokeWidth": 2}
        }
      ]
    },
    {
      "spacing": -8,
      "resolve": {"scale": {"color": "independent"}},
      "hconcat": [
        {"width": 14, "height": 1, "data": {"values": [{}]}, "mark": {"type": "point", "opacity": 0}},
        {
          "width": 276, "height": 206,
          "title": {"text": ["Edegem Member (N = 10)", "Mode between 124 and 175 µm"], "lineHeight": 25, "dx": -9, "offset": 7},
          "data": {"name": "e2"},
          "mark": {"type": "line", "interpolate": "catmull-rom", "strokeWidth": 1.6, "point": {"filled": true, "size": 30}},
          "encoding": {
            "x": {"field": "x", "type": "quantitative", "scale": {"domain": [0, 650], "nice": false, "zero": false},
                  "axis": {"values": [0, 100, 200, 300, 400, 500, 600], "labelExpr": "datum.value % 200 == 0 ? datum.label : ''", "labelFontSize": 19.5, "labelPadding": 7, "labelAlign": {"condition": {"test": "datum.value == 600", "value": "right"}, "value": "center"}, "title": "(µm)", "titleX": 259, "titleY": 23}},
            "y": {"field": "y", "type": "quantitative", "scale": {"domain": [0, 60], "nice": false},
                  "axis": {"values": [0, 10, 20, 30, 40, 50, 60], "labelFontSize": 19.5, "labelPadding": 4, "minExtent": 26, "maxExtent": 26, "title": null}},
            "color": {"field": "s", "type": "nominal", "legend": null,
                      "scale": {"domain": ["bl","gn","cy","ye","gr","or","nv","ru","dk","br"], "range": ["#2f7cc4","#4cb848","#25a4dd","#fdb515","#a5a5a5","#f47b2f","#1f4e86","#c0501a","#5f5f5f","#9a6a1c"]}}
          }
        },
        {
          "width": 276, "height": 206,
          "title": {"text": ["Antwerpen Member (N = 14)", "Mode between 175 and 250 µm"], "lineHeight": 25, "dx": -8, "offset": 7},
          "data": {"name": "a2"},
          "mark": {"type": "line", "interpolate": "catmull-rom", "strokeWidth": 1.6, "point": {"filled": true, "size": 30}},
          "encoding": {
            "x": {"field": "x", "type": "quantitative", "scale": {"domain": [0, 650], "nice": false, "zero": false},
                  "axis": {"values": [0, 100, 200, 300, 400, 500, 600], "labelExpr": "datum.value % 200 == 0 ? datum.label : ''", "labelFontSize": 19.5, "labelPadding": 7, "labelAlign": {"condition": {"test": "datum.value == 600", "value": "right"}, "value": "center"}, "title": "(µm)", "titleX": 260, "titleY": 23}},
            "y": {"field": "y", "type": "quantitative", "scale": {"domain": [0, 60], "nice": false},
                  "axis": {"values": [0, 10, 20, 30, 40, 50, 60], "labelFontSize": 19.5, "labelPadding": 6, "minExtent": 27, "maxExtent": 27, "title": null}},
            "color": {"field": "s", "type": "nominal", "legend": null,
                      "scale": {"domain": ["dk","dgn","lgn","nv","bl","ye","or","ru","sal","cf","gd","gr","cy","db2"], "range": ["#666666","#1e7a35","#5cbf5c","#1a4f8a","#2e75b6","#ffc000","#f47b20","#c0501a","#f4a07a","#5b9bd5","#a07a10","#a5a5a5","#1ea0dc","#2f5597"]}}
          }
        },
        {
          "width": 276, "height": 206,
          "title": {"text": ["Zonderschot Member", "Mode between 125 and 177 µm"], "lineHeight": 25, "dx": -8, "offset": 7},
          "data": {"name": "z"},
          "mark": {"type": "line", "interpolate": "catmull-rom", "strokeWidth": 1.8, "color": "#2a7cc4", "point": {"filled": true, "size": 42, "color": "#2a7cc4"}},
          "encoding": {
            "x": {"field": "x", "type": "quantitative", "scale": {"domain": [0, 650], "nice": false, "zero": false},
                  "axis": {"values": [0, 100, 200, 300, 400, 500, 600], "labelExpr": "datum.value % 200 == 0 ? datum.label : ''", "labelFontSize": 19.5, "labelPadding": 7, "labelAlign": {"condition": {"test": "datum.value == 600", "value": "right"}, "value": "center"}, "title": "(µm)", "titleX": 255, "titleY": 23}},
            "y": {"field": "y", "type": "quantitative", "scale": {"domain": [0, 60], "nice": false},
                  "axis": {"values": [0, 10, 20, 30, 40, 50, 60], "labelFontSize": 19.5, "labelPadding": 6, "minExtent": 50, "maxExtent": 50, "title": null}}
          }
        }
      ]
    }
  ]
}
]
}
